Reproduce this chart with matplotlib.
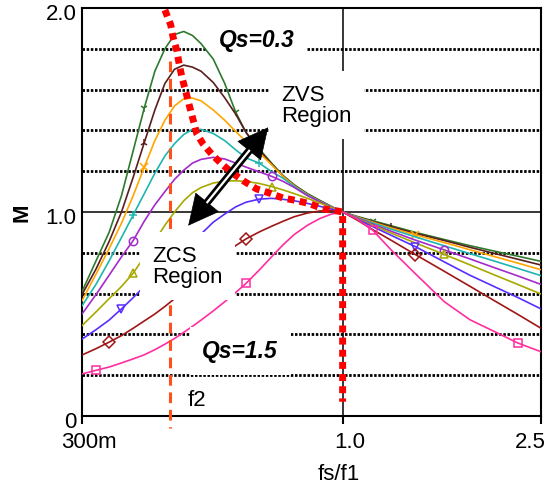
import numpy as np
import matplotlib
matplotlib.use("Agg")
import matplotlib.pyplot as plt
import matplotlib.ticker as mticker
from matplotlib import transforms as mtransforms
from matplotlib.patches import FancyArrowPatch

plt.rcParams['font.family'] = ['Liberation Sans', 'DejaVu Sans']

# normalised switching frequency fs/f1 (shared by every gain curve)
fs = [0.30, 0.32, 0.34, 0.36, 0.38, 0.40, 0.42, 0.44, 0.46, 0.48, 0.50,
      0.52, 0.55, 0.58, 0.61, 0.64, 0.68, 0.72, 0.76, 0.80, 0.85, 0.90,
      0.95, 1.00, 1.07, 1.15, 1.25, 1.40, 1.60, 1.80, 2.00, 2.25, 2.50]

# gain M for each load (Qs = 0.3 ... 1.5)
m_q03 = [0.61, 0.76, 0.90, 1.08, 1.30, 1.51, 1.69, 1.80, 1.87, 1.885, 1.865,
         1.825, 1.75, 1.63, 1.49, 1.39, 1.31, 1.24, 1.178, 1.133, 1.09, 1.057,
         1.027, 1.0, 0.978, 0.957, 0.933, 0.90, 0.865, 0.835, 0.81, 0.783, 0.758]
m_q04 = [0.595, 0.72, 0.855, 1.0, 1.17, 1.34, 1.50, 1.63, 1.70, 1.72, 1.71,
         1.69, 1.635, 1.56, 1.48, 1.39, 1.305, 1.235, 1.175, 1.13, 1.087, 1.054,
         1.025, 1.0, 0.976, 0.953, 0.928, 0.895, 0.86, 0.827, 0.799, 0.768, 0.74]
m_q05 = [0.565, 0.695, 0.82, 0.945, 1.08, 1.22, 1.35, 1.45, 1.52, 1.555, 1.558,
         1.545, 1.50, 1.45, 1.395, 1.345, 1.29, 1.232, 1.174, 1.128, 1.085, 1.052,
         1.024, 1.0, 0.975, 0.95, 0.922, 0.888, 0.85, 0.815, 0.784, 0.749, 0.717]
m_q06 = [0.54, 0.645, 0.76, 0.875, 0.985, 1.09, 1.19, 1.275, 1.335, 1.38, 1.405,
         1.405, 1.385, 1.35, 1.305, 1.265, 1.24, 1.198, 1.165, 1.125, 1.083, 1.051,
         1.024, 1.0, 0.973, 0.946, 0.916, 0.878, 0.834, 0.796, 0.762, 0.723, 0.688]
m_q07 = [0.50, 0.595, 0.69, 0.78, 0.86, 0.955, 1.035, 1.10, 1.16, 1.205, 1.24,
         1.258, 1.268, 1.26, 1.24, 1.22, 1.197, 1.175, 1.15, 1.12, 1.08, 1.05,
         1.023, 1.0, 0.971, 0.94, 0.906, 0.862, 0.814, 0.77, 0.73, 0.686, 0.645]
m_q08 = [0.443, 0.51, 0.575, 0.635, 0.70, 0.78, 0.86, 0.935, 1.0, 1.055, 1.095,
         1.12, 1.142, 1.152, 1.153, 1.15, 1.14, 1.125, 1.108, 1.09, 1.067, 1.044,
         1.021, 1.0, 0.968, 0.935, 0.897, 0.848, 0.792, 0.741, 0.695, 0.644, 0.598]
m_q10 = [0.377, 0.423, 0.47, 0.525, 0.58, 0.635, 0.682, 0.728, 0.772, 0.813, 0.853,
         0.892, 0.95, 0.99, 1.025, 1.048, 1.063, 1.067, 1.062, 1.055, 1.042, 1.028,
         1.014, 1.0, 0.965, 0.928, 0.886, 0.83, 0.755, 0.69, 0.638, 0.58, 0.525]
m_q12 = [0.299, 0.33, 0.362, 0.394, 0.43, 0.466, 0.50, 0.537, 0.575, 0.612, 0.65,
         0.69, 0.745, 0.795, 0.835, 0.868, 0.902, 0.93, 0.955, 0.977, 0.995, 1.005,
         1.006, 1.0, 0.96, 0.913, 0.862, 0.791, 0.709, 0.636, 0.57, 0.497, 0.43]
m_q15 = [0.206, 0.224, 0.24, 0.26, 0.28, 0.30, 0.325, 0.352, 0.38, 0.41, 0.44,
         0.47, 0.515, 0.56, 0.605, 0.65, 0.715, 0.78, 0.84, 0.89, 0.935, 0.968,
         0.99, 1.0, 0.965, 0.91, 0.815, 0.697, 0.56, 0.472, 0.418, 0.357, 0.315]

curves = [m_q03, m_q04, m_q05, m_q06, m_q07, m_q08, m_q10, m_q12, m_q15]
colors = ['#2D7A2D', '#5A1E1E', '#FFA500', '#1FB5B0', '#A52ACB',
          '#A8A800', '#5A2DFF', '#A01515', '#FF2EA0']
markers = ['1', '2', 'x', '+', 'o', '^', 'v', 'D', 's']
mark_idx = [[5, 14, 25], [5, 26], [5, 27], [4, 16], [4, 17, 28],
            [4, 17, 28], [3, 16, 27], [2, 15, 27], [1, 15, 25, 31]]

# ZVS / ZCS boundary (thick red dotted line)
boundary_fs = [0.440, 0.452, 0.457, 0.465, 0.470, 0.476, 0.485, 0.493, 0.510,
               0.525, 0.546, 0.572, 0.599, 0.632, 0.672, 0.715, 0.760, 0.809,
               0.860, 0.915, 0.965, 1.0, 1.0]
boundary_m = [1.99, 1.917, 1.856, 1.79, 1.725, 1.66, 1.586, 1.518, 1.382,
              1.333, 1.284, 1.235, 1.194, 1.153, 1.113, 1.092, 1.068, 1.056,
              1.04, 1.015, 1.007, 1.0, 0.07]

f2 = 0.45
f2_span = [1.74, -0.06]

grid_dotted = [0.2, 0.4, 0.6, 0.8, 1.2, 1.4, 1.6, 1.8]
x_ticks = [0.3, 1.0, 2.5]
x_ticklabels = ['300m', '1.0', '2.5']
x_label_shift = [0.07, 0.07, -0.11]   # inches, as placed in the original
y_ticks = [0, 1.0, 2.0]
y_ticklabels = ['0', '1.0', '2.0']

zvs_tip = (0.709, 1.415)
zcs_tip = (0.49, 0.933)

fig = plt.figure(figsize=(5.46, 4.85), dpi=100)
ax = fig.add_axes([82 / 546, 68 / 485, 459 / 546, 408 / 485])
ax.set_xscale('log')
ax.set_xlim(0.3, 2.5)
ax.set_ylim(0, 2.0)
ax.xaxis.set_minor_locator(mticker.NullLocator())
ax.set_xticks(x_ticks)
ax.set_xticklabels(x_ticklabels)
ax.set_yticks(y_ticks)
ax.set_yticklabels(y_ticklabels)
ax.tick_params(axis='x', direction='out', length=5.5, width=1.5, pad=5, labelsize=16)
ax.tick_params(axis='y', length=0, pad=4, labelsize=16)
for sp in ax.spines.values():
    sp.set_linewidth(1.5)

# shift tick labels like the original
for lab, dx in zip(ax.get_xticklabels(), x_label_shift):
    lab.set_transform(lab.get_transform() + mtransforms.ScaledTranslation(dx, 0, fig.dpi_scale_trans))
for lab in ax.get_yticklabels():
    lab.set_transform(lab.get_transform() + mtransforms.ScaledTranslation(0, -0.035, fig.dpi_scale_trans))

ax.set_xlabel('fs/f1', fontsize=16)
ax.xaxis.set_label_coords(0.56, -0.115)
ax.set_ylabel('M', fontsize=16, fontweight='bold')
ax.yaxis.set_label_coords(-0.108, 0.5)

# grid
for y in grid_dotted:
    ax.axhline(y, color='k', lw=2.0, linestyle=(0, (0.9, 0.6)), zorder=1)
ax.axhline(1.0, color='k', lw=1.1, zorder=1)
ax.axvline(1.0, color='k', lw=1.1, zorder=1)

for m, c, mk, idx in zip(curves, colors, markers, mark_idx):
    ax.plot(fs, m, color=c, lw=1.2, marker=mk, markevery=idx, ms=6,
            mfc='none', mew=1.1, zorder=3)

ax.plot(boundary_fs, boundary_m, color='#FF0000', lw=5,
        linestyle=(0, (1, 0.75)), dash_capstyle='butt', zorder=4)
ax.plot([f2, f2], f2_span, color='#FF4F1A', lw=2.2,
        linestyle=(0, (3.5, 2.2)), dash_capstyle='butt', clip_on=False, zorder=4)

box = dict(boxstyle='square,pad=0.55', fc='white', ec='none')
ax.text(0.673, 1.848, 'Qs=0.3', fontsize=16.5, fontweight='bold', fontstyle='italic',
        ha='center', va='center', bbox=box, zorder=1.5)
ax.text(0.752, 1.5245, 'ZVS\nRegion', fontsize=16, ha='left', va='center',
        linespacing=1.05, bbox=box, zorder=5)
ax.text(0.4145, 0.735, 'ZCS\nRegion', fontsize=16, ha='left', va='center',
        linespacing=1.05, bbox=box, zorder=5)
ax.text(0.6225, 0.319, 'Qs=1.5', fontsize=16.5, fontweight='bold', fontstyle='italic',
        ha='center', va='center', bbox=box, zorder=5)
ax.text(0.51, 0.083, 'f2', fontsize=16, ha='center', va='center', zorder=5)

# double headed arrow with hollow shaft
p1 = ax.transData.transform(zvs_tip)
p2 = ax.transData.transform(zcs_tip)
u = (p2 - p1) / np.hypot(*(p2 - p1))
head_px = 21 * fig.dpi / 72
b1 = p1 + u * head_px
b2 = p2 - u * head_px
ident = mtransforms.IdentityTransform()
arrow = FancyArrowPatch(zvs_tip, zcs_tip, arrowstyle='<|-|>,head_length=21,head_width=10.5',
                        mutation_scale=1, color='k', lw=0.5, shrinkA=0, shrinkB=0, zorder=5.9)
ax.add_patch(arrow)
ax.plot([b1[0], b2[0]], [b1[1], b2[1]], color='k', lw=5.5, transform=ident,
        solid_capstyle='butt', zorder=6)
ax.plot([b1[0], b2[0]], [b1[1], b2[1]], color='white', lw=1.6, transform=ident,
        solid_capstyle='butt', zorder=6.1)

fig.savefig('out.png', dpi=100)
